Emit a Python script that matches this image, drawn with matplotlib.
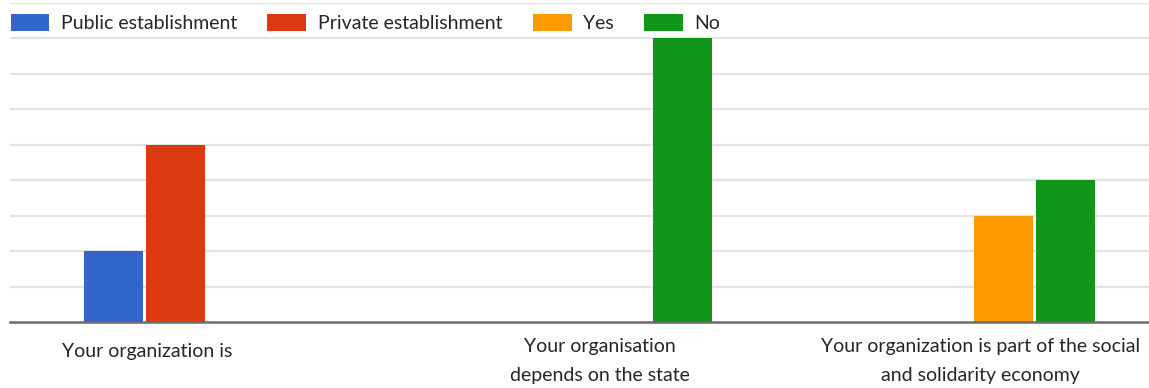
import numpy as np
import matplotlib.pyplot as plt
from matplotlib.transforms import blended_transform_factory

plt.rcParams['font.family'] = ['Lato', 'DejaVu Sans']

# survey questions on the x axis, one group of four slots each
categories = ['Your organization is',
              'Your organisation\ndepends on the state',
              'Your organization is part of the social\nand solidarity economy']
series = ['Public establishment', 'Private establishment', 'Yes', 'No']
colors = ['#3366cc', '#dc3912', '#ff9900', '#109618']

# answer counts per question (nan = answer not offered)
public_vals = [2, np.nan, np.nan]
private_vals = [5, np.nan, np.nan]
yes_vals = [np.nan, np.nan, 3]
no_vals = [np.nan, 8, 4]
values = [public_vals, private_vals, yes_vals, no_vals]

fig = plt.figure(figsize=(11.49, 3.88), dpi=100)
ax = fig.add_axes([10 / 1149, 66 / 388, 1139 / 1149, 319 / 388])

x = np.arange(len(categories))
slot = 0.162
barw = 0.154
for i, (vals, name, col) in enumerate(zip(values, series, colors)):
    ax.bar(x + (i - 1.5) * slot, vals, width=barw, color=col, label=name,
           linewidth=0, zorder=3)

ax.set_xlim(-0.514, 2.46)
ax.set_ylim(0, 9)
ax.set_yticks(np.arange(1, 10))
ax.yaxis.grid(True, color='#e3e3e3', linewidth=1.6, zorder=0)
ax.tick_params(left=False, labelleft=False, bottom=False, labelbottom=False)
for side in ['top', 'left', 'right']:
    ax.spines[side].set_visible(False)
ax.spines['bottom'].set_color('#6b6b6b')
ax.spines['bottom'].set_linewidth(1.8)
ax.spines['bottom'].set_zorder(4)

# category labels under the baseline
trans = blended_transform_factory(ax.transData, fig.transFigure)
label_x = [-0.156, 1.026, 2.019]
label_y = [352, 361, 361]
for lx, ly, lab in zip(label_x, label_y, categories):
    ax.text(lx, 1 - ly / 388, lab, transform=trans, ha='center', va='center',
            fontsize=14, color='#262626', linespacing=1.9)

fig.legend(loc='center left', bbox_to_anchor=(-7 / 1149, 1 - 23 / 388), ncol=4,
           frameon=False, fontsize=14, handlelength=2.0, handleheight=0.93,
           handletextpad=0.6, columnspacing=1.55, labelcolor='#262626')

fig.savefig('out.png', dpi=100)
